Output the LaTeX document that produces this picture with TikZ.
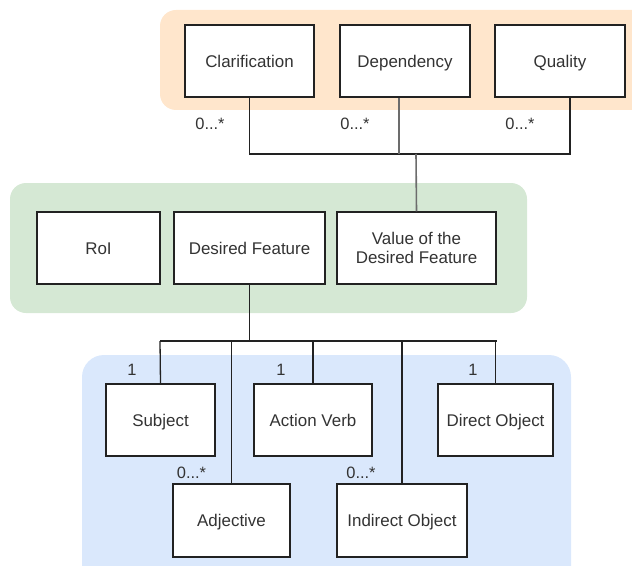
\documentclass[tikz,border=0pt]{standalone}
\usepackage{fontspec}
\setmainfont{Liberation Sans}
\usetikzlibrary{calc}
\definecolor{txt}{HTML}{333333}
\definecolor{orangefill}{HTML}{FFE6CC}
\definecolor{greenfill}{HTML}{D5E8D4}
\definecolor{bluefill}{HTML}{DAE8FC}
\definecolor{lnk}{HTML}{222222}
\tikzset{
  box/.style={draw=lnk, line width=1.3bp, fill=white, text=txt, minimum height=72bp, inner sep=2bp, align=center, font=\fontsize{17}{19.5}\selectfont},
  oneline/.style={text height=12.2bp, text depth=0bp},
  group/.style={rounded corners=16bp, draw=none},
  link/.style={draw=lnk, line width=1.3bp},
  glink/.style={draw=gray!85!black, line width=1.6bp},
  mult/.style={text=txt, font=\fontsize{16.5}{19}\selectfont, inner sep=0pt, text height=12bp, text depth=0bp}
}
\begin{document}
\begin{tikzpicture}[x=1bp, y=-1bp]
\useasboundingbox (0,0) rectangle (632,566);
\clip (0,0) rectangle (632,566);
% groups
\fill[group, orangefill] (160,10) rectangle (660,110);
\fill[group, greenfill] (10,183) rectangle (527,313);
\fill[group, bluefill, rounded corners=22bp] (82,355) rectangle (571,600);
% top row
\node[box, oneline, minimum width=129bp] (clar) at (249.5,61) {Clarification};
\node[box, oneline, minimum width=130bp] (dep) at (405,61) {Dependency};
\node[box, oneline, minimum width=130bp] (qual) at (560,61) {Quality};
% middle row
\node[box, oneline, minimum width=123bp] (roi) at (98.5,248) {RoI};
\node[box, oneline, minimum width=151bp] (df) at (249.5,248) {Desired Feature};
\node[box, minimum width=159bp] (val) at (416.5,248) {Value of the\\Desired Feature};
% bottom rows
\node[box, oneline, minimum width=109bp] (subj) at (160.5,420) {Subject};
\node[box, oneline, minimum width=118bp] (av) at (313,420) {Action Verb};
\node[box, oneline, minimum width=115bp] (do) at (495.5,420) {Direct Object};
\node[box, oneline, minimum width=117bp, minimum height=73bp] (adj) at (231.5,520.5) {Adjective};
\node[box, oneline, minimum width=130bp, minimum height=73bp] (io) at (402,520.5) {Indirect Object};
% top bus
\coordinate (tb) at (416,154);
\coordinate (ql) at ($(qual.south)+(10,0)$);
\coordinate (dl) at ($(dep.south)+(-6,0)$);
\draw[link] (clar.south) |- (tb);
\draw[link] (ql) |- (tb);
\draw[glink] (dl) -- (dl |- tb);
\draw[glink] (tb) -- (val.north);
% bottom bus
\coordinate (bl) at (160,341);
\coordinate (br) at (497,341);
\draw[link] (bl) -- (br);
\draw[link] (df.south) -- (df.south |- bl);
\draw[link] (bl) -- (subj.north);
\draw[link] (adj.north |- bl) -- (adj.north);
\draw[link] (av.north |- bl) -- (av.north);
\draw[link] (io.north |- bl) -- (io.north);
\draw[link] (do.north |- bl) -- (do.north);
% multiplicities
\node[mult] (m1) at (210,124) {0...*};
\node[mult] (m2) at (355,124) {0...*};
\node[mult] (m3) at (520,124) {0...*};
\node[mult] (m4) at (132,369) {1};
\node[mult] (m5) at (281,369) {1};
\node[mult] (m6) at (473,369) {1};
\node[mult] (m7) at (191.5,472) {0...*};
\node[mult] (m8) at (361,472) {0...*};
\end{tikzpicture}
\end{document}
